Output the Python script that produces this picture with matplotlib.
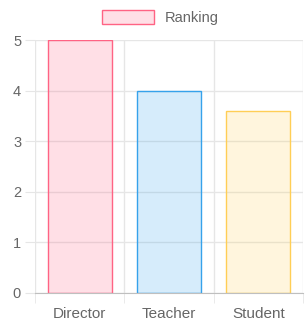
import matplotlib
matplotlib.use("Agg")
import matplotlib.pyplot as plt
from matplotlib.patches import Patch

categories = ["Director", "Teacher", "Student"]
values = [5, 4, 3.6]
label = "Ranking"
fill_colors = [(1, 99/255, 132/255, 0.2), (54/255, 162/255, 235/255, 0.2), (1, 206/255, 86/255, 0.2)]
edge_colors = [(1, 99/255, 132/255), (54/255, 162/255, 235/255), (1, 206/255, 86/255)]
yticks = [0, 1, 2, 3, 4, 5]

plt.rcParams['font.family'] = ['Liberation Sans', 'DejaVu Sans']

fig = plt.figure(figsize=(3.05, 3.24), dpi=100)
ax = fig.add_axes([35/305, 1 - 293/324, 268/305, 253/324])

x = list(range(len(categories)))
ax.bar(x, values, width=0.72, color=fill_colors, edgecolor=edge_colors, linewidth=1)

ax.set_xlim(-0.5, len(categories) - 0.5)
ax.set_ylim(0, 5)
ax.set_yticks(yticks)
ax.set_xticks(x)
ax.set_xticklabels(categories)
ax.set_xticks([i - 0.5 for i in range(len(categories) + 1)], minor=True)

grid_c = '#e6e6e6'
ax.grid(axis='y', color=grid_c, linewidth=1, alpha=1)
ax.grid(axis='x', which='minor', color=grid_c, linewidth=1, alpha=1)
ax.set_axisbelow(True)
for s in ['top', 'right', 'left']:
    ax.spines[s].set_visible(False)
ax.spines['bottom'].set_color('#bfbfbf')

fs = 11
ax.tick_params(axis='y', length=7, color=grid_c, labelcolor='#666666', labelsize=10.5, pad=3)
ax.tick_params(axis='x', which='major', length=0, labelcolor='#666666', labelsize=fs, pad=10)
ax.tick_params(axis='x', which='minor', length=7, color=grid_c)

handle = Patch(facecolor=fill_colors[0], edgecolor=edge_colors[0], linewidth=1)
fig.legend([handle], [label], loc='center', bbox_to_anchor=(160/305, 1 - 17.5/324), frameon=False,
           handlelength=3.63, handleheight=1.1, handletextpad=0.69, fontsize=10.5, labelcolor='#666666')

fig.savefig("out.png", dpi=100)
